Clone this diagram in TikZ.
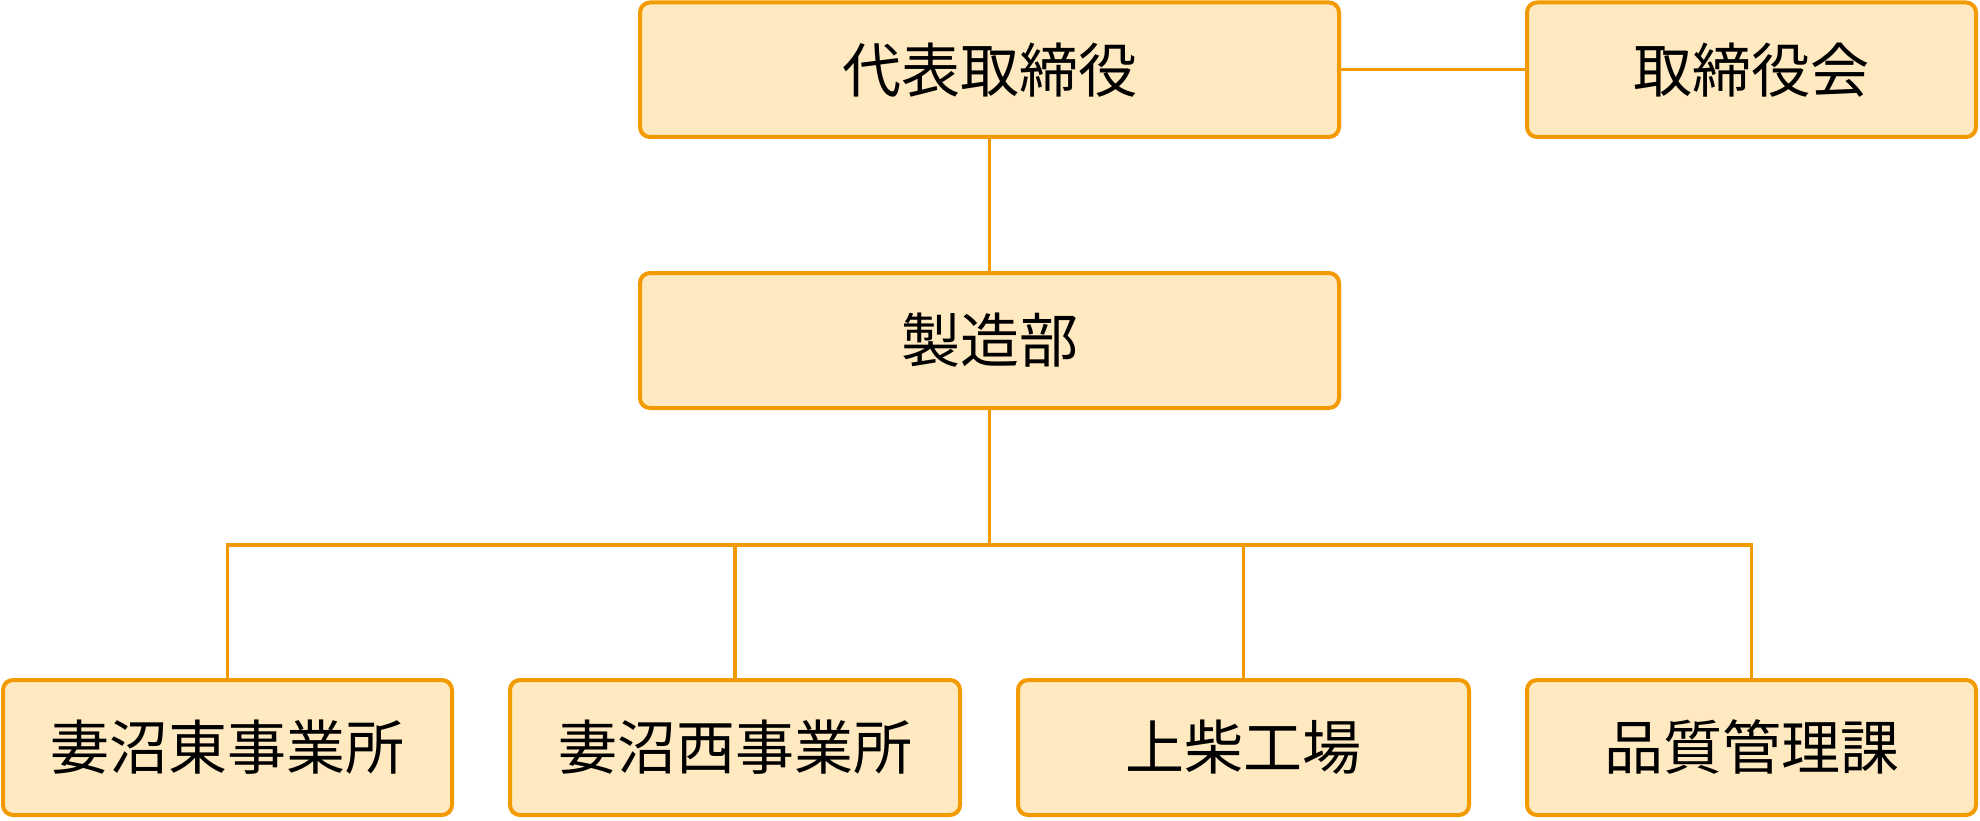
\documentclass[tikz,border=0pt]{standalone}
\usepackage{fontspec}
\newfontfamily\jpfont{Noto Sans CJK JP}
\definecolor{edge}{HTML}{F39A00}
\definecolor{boxfill}{HTML}{FFE9C1}
\begin{document}
\begin{tikzpicture}[x=1pt,y=-1pt,
  orgbox/.style={draw=edge, fill=boxfill, line width=4pt, rounded corners=10pt},
  conn/.style={draw=edge, line width=3.5pt},
  lbl/.style={font=\jpfont\fontsize{59}{63}\selectfont, text=black, inner sep=0pt}]
\useasboundingbox[fill=white] (0,0) rectangle (1980,821);
\newcommand\orgnode[6]{%
  \draw[orgbox] (#2,#3) rectangle (#4,#5);
  \node[lbl, minimum width=#4-#2, minimum height=#5-#3] (#1) at ({(#2+#4)/2},{(#3+#5)/2}) {#6};}
\orgnode{ceo}{640}{2.5}{1339}{137}{代表取締役}
\orgnode{board}{1527}{2.5}{1976}{137}{取締役会}
\orgnode{mfg}{640}{273}{1339}{408}{製造部}
\orgnode{b1}{3}{680}{452}{815}{妻沼東事業所}
\orgnode{b2}{510}{680}{960}{815}{妻沼西事業所}
\orgnode{b3}{1018}{680}{1469}{815}{上柴工場}
\orgnode{b4}{1527}{680}{1976}{815}{品質管理課}
\coordinate (bus) at (989.5,545);
\draw[conn] (ceo.east) -- (board.west);
\draw[conn] (ceo.south) -- (mfg.north);
\draw[conn] (mfg.south) -- (bus);
\draw[conn] (b1.north) |- (bus);
\draw[conn] (b4.north) |- (bus);
\draw[conn] (b2.north) -- (b2.north |- bus);
\draw[conn] (b3.north) -- (b3.north |- bus);
\end{tikzpicture}
\end{document}
